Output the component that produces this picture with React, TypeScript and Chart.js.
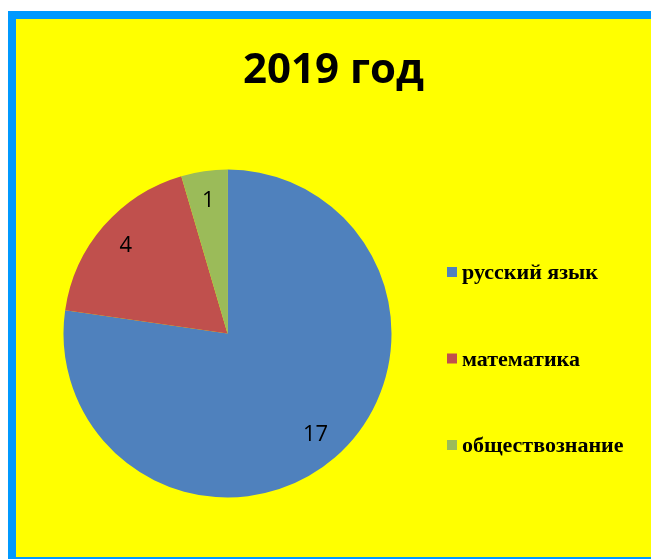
import React, { useEffect, useRef } from "react";
import { Chart, registerables } from "chart.js";

Chart.register(...registerables);

const TITLE = "2019 год";
const categories = ["русский язык", "математика", "обществознание"];
const values = [17, 4, 1];
const colors = ["#4F81BD", "#C0504D", "#9BBB59"];

export default function App() {
  const ref = useRef<HTMLCanvasElement>(null);

  useEffect(() => {
    if (!ref.current) return;

    const titlePlugin = {
      id: "centerTitle",
      afterDraw(chart: any) {
        const ctx = chart.ctx;
        ctx.save();
        ctx.font = "bold 42px 'Open Sans'";
        ctx.fillStyle = "#000";
        ctx.textAlign = "center";
        ctx.textBaseline = "alphabetic";
        ctx.fillText(TITLE, chart.width / 2, 64);
        ctx.restore();
      },
    };

    const labelPlugin = {
      id: "sliceLabels",
      afterDatasetsDraw(chart: any) {
        const ctx = chart.ctx;
        const meta = chart.getDatasetMeta(0);
        ctx.save();
        ctx.font = "22px 'Open Sans'";
        ctx.fillStyle = "#000";
        ctx.textAlign = "center";
        ctx.textBaseline = "middle";
        meta.data.forEach((arc: any, i: number) => {
          const { x, y, startAngle, endAngle, outerRadius } = arc.getProps(
            ["x", "y", "startAngle", "endAngle", "outerRadius"],
            true
          );
          const mid = (startAngle + endAngle) / 2;
          const r = outerRadius * 0.82;
          ctx.fillText(String(values[i]), x + Math.cos(mid) * r, y + Math.sin(mid) * r);
        });
        ctx.restore();
      },
    };

    const legendPlugin = {
      id: "sideLegend",
      afterDraw(chart: any) {
        const ctx = chart.ctx;
        const x0 = 431;
        const top0 = 248;
        const gap = 86.5;
        const box = 10;
        ctx.save();
        ctx.font = "bold 22px 'Liberation Serif'";
        ctx.textBaseline = "alphabetic";
        ctx.textAlign = "left";
        categories.forEach((c, i) => {
          const y = top0 + gap * i;
          ctx.fillStyle = colors[i];
          ctx.fillRect(x0, y, box, box);
          ctx.fillStyle = "#000";
          ctx.fillText(c, x0 + 15, y + 12);
        });
        ctx.restore();
      },
    };

    const chart = new Chart(ref.current, {
      type: "pie",
      data: {
        labels: categories,
        datasets: [
          {
            data: values,
            backgroundColor: colors,
            borderWidth: 0,
          },
        ],
      },
      options: {
        animation: false,
        responsive: true,
        maintainAspectRatio: false,
        layout: { padding: { left: 47.5, right: 259.5, bottom: 59.5, top: 150.5 } },
        plugins: {
          legend: { display: false },
          tooltip: { enabled: false },
          title: { display: false },
        },
      },
      plugins: [titlePlugin, labelPlugin, legendPlugin],
    });

    return () => chart.destroy();
  }, []);

  return (
    <div
      style={{
        position: "fixed",
        left: 8,
        top: 11,
        width: 635,
        height: 538,
        borderTop: "8px solid #0099FF",
        borderLeft: "8px solid #0099FF",
        borderBottom: "2px solid #0099FF",
        background: "#FFFF00",
      }}
    >
      <div style={{ position: "relative", width: 635, height: 538 }}>
        <canvas ref={ref} />
      </div>
    </div>
  );
}
